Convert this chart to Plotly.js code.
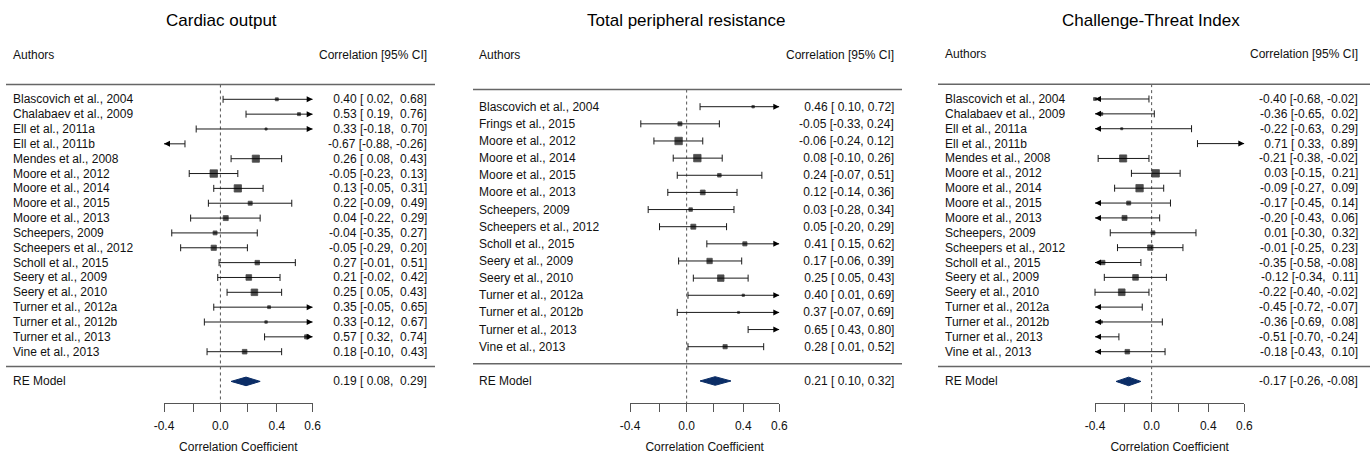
<!DOCTYPE html>
<html><head><meta charset="utf-8">
<script src="https://cdn.plot.ly/plotly-3.0.1.min.js"></script>
<style>html,body{margin:0;padding:0;background:#fff}#chart{width:1370px;height:458px}</style>
</head><body><div id="chart"></div>
<script>
// ---------------- data ----------------
const panelTitles = ["Cardiac output", "Total peripheral resistance", "Challenge-Threat Index"];

const authorsCO = ["Blascovich et al., 2004","Chalabaev et al., 2009","Ell et al., 2011a","Ell et al., 2011b","Mendes et al., 2008","Moore et al., 2012","Moore et al., 2014","Moore et al., 2015","Moore et al., 2013","Scheepers, 2009","Scheepers et al., 2012","Scholl et al., 2015","Seery et al., 2009","Seery et al., 2010","Turner et al., 2012a","Turner et al., 2012b","Turner et al., 2013","Vine et al., 2013"];
const estCO = [0.40, 0.53, 0.33, -0.67, 0.26, -0.05, 0.13, 0.22, 0.04, -0.04, -0.05, 0.27, 0.21, 0.25, 0.35, 0.33, 0.57, 0.18];
const lowCO = [0.02, 0.19, -0.18, -0.88, 0.08, -0.23, -0.05, -0.09, -0.22, -0.35, -0.29, -0.01, -0.02, 0.05, -0.05, -0.12, 0.32, -0.10];
const highCO = [0.68, 0.76, 0.70, -0.26, 0.43, 0.13, 0.31, 0.49, 0.29, 0.27, 0.20, 0.51, 0.42, 0.43, 0.65, 0.67, 0.74, 0.43];
const reCO = [0.19, 0.08, 0.29];

const authorsTPR = ["Blascovich et al., 2004","Frings et al., 2015","Moore et al., 2012","Moore et al., 2014","Moore et al., 2015","Moore et al., 2013","Scheepers, 2009","Scheepers et al., 2012","Scholl et al., 2015","Seery et al., 2009","Seery et al., 2010","Turner et al., 2012a","Turner et al., 2012b","Turner et al., 2013","Vine et al., 2013"];
const estTPR = [0.46, -0.05, -0.06, 0.08, 0.24, 0.12, 0.03, 0.05, 0.41, 0.17, 0.25, 0.40, 0.37, 0.65, 0.28];
const lowTPR = [0.10, -0.33, -0.24, -0.10, -0.07, -0.14, -0.28, -0.20, 0.15, -0.06, 0.05, 0.01, -0.07, 0.43, 0.01];
const highTPR = [0.72, 0.24, 0.12, 0.26, 0.51, 0.36, 0.34, 0.29, 0.62, 0.39, 0.43, 0.69, 0.69, 0.80, 0.52];
const reTPR = [0.21, 0.10, 0.32];

const authorsCTI = ["Blascovich et al., 2004","Chalabaev et al., 2009","Ell et al., 2011a","Ell et al., 2011b","Mendes et al., 2008","Moore et al., 2012","Moore et al., 2014","Moore et al., 2015","Moore et al., 2013","Scheepers, 2009","Scheepers et al., 2012","Scholl et al., 2015","Seery et al., 2009","Seery et al., 2010","Turner et al., 2012a","Turner et al., 2012b","Turner et al., 2013","Vine et al., 2013"];
const estCTI = [-0.40, -0.36, -0.22, 0.71, -0.21, 0.03, -0.09, -0.17, -0.20, 0.01, -0.01, -0.35, -0.12, -0.22, -0.45, -0.36, -0.51, -0.18];
const lowCTI = [-0.68, -0.65, -0.63, 0.33, -0.38, -0.15, -0.27, -0.45, -0.43, -0.30, -0.25, -0.58, -0.34, -0.40, -0.72, -0.69, -0.70, -0.43];
const highCTI = [-0.02, 0.02, 0.29, 0.89, -0.02, 0.21, 0.09, 0.14, 0.06, 0.32, 0.23, -0.08, 0.11, -0.02, -0.07, 0.08, -0.24, 0.10];
const reCTI = [-0.17, -0.26, -0.08];

const tickValues = [-0.4, -0.2, 0.0, 0.2, 0.4, 0.6];
const tickLabels = ["-0.4", "", "0.0", "", "0.4", "0.6"];
const headerLeft = "Authors";
const headerRight = "Correlation [95% CI]";
const summaryLabel = "RE Model";
const xAxisTitle = "Correlation Coefficient";

// ---------------- layout geometry (pixels) ----------------
const W = 1370, H = 458;
const FONT = "Liberation Sans, Arial, sans-serif";
const TXT = "#111";
const axisPx = 403;
const geom = [
  {axL:164, axR:312.7, rowTop:99.3, rowBot:351.7, lineL:6, lineR:435, textL:12.5, textR:427, titleX:221.7},
  {axL:630, axR:779.3, rowTop:106.7, rowBot:346.7, lineL:473, lineR:902, textL:479, textR:893.5, titleX:685.8},
  {axL:1095, axR:1244.3, rowTop:99, rowBot:351.7, lineL:938, lineR:1370, textL:945, textR:1357.5, titleX:1151}
];
const panels = [
  {authors:authorsCO, est:estCO, lo:lowCO, hi:highCO, re:reCO},
  {authors:authorsTPR, est:estTPR, lo:lowTPR, hi:highTPR, re:reTPR},
  {authors:authorsCTI, est:estCTI, lo:lowCTI, hi:highCTI, re:reCTI}
];

const NB = "\u00a0";
function padCol(vals){
  const s = vals.map(v => v.toFixed(2));
  const w = Math.max(...s.map(t => t.length));
  return s.map(t => NB.repeat(w - t.length) + t);
}

const traces = [], shapes = [], annotations = [];
const layout = {
  width: W, height: H, margin:{l:0,r:0,t:0,b:0},
  paper_bgcolor:"#fff", plot_bgcolor:"rgba(0,0,0,0)", showlegend:false,
  font:{family:FONT, size:12, color:TXT}
};

const zMin = Math.atanh(tickValues[0]), zMax = Math.atanh(tickValues[tickValues.length-1]);
const eps = 1e-9;

panels.forEach((p, i) => {
  const g = geom[i];
  const k = p.authors.length;
  const s = (g.rowBot - g.rowTop) / (k - 1);   // px per row
  const p0 = g.rowBot + s;                      // pixel of row 0
  const topRow = k + 3;
  const topPx = p0 - s * topRow;
  const xa = i === 0 ? "x" : "x" + (i+1), ya = i === 0 ? "y" : "y" + (i+1);
  const xk = i === 0 ? "xaxis" : "xaxis" + (i+1), yk = i === 0 ? "yaxis" : "yaxis" + (i+1);

  layout[xk] = {
    domain:[g.axL / W, g.axR / W], range:[zMin, zMax], anchor: ya,
    tickmode:"array", tickvals: tickValues.map(Math.atanh), ticktext: tickLabels,
    ticks:"outside", ticklen:8, tickwidth:1, tickcolor:"#555",
    showline:true, linecolor:"#555", linewidth:1, showgrid:false, zeroline:false,
    tickfont:{family:FONT, size:12, color:TXT}, ticklabelstandoff:4,
    title:{text:xAxisTitle, font:{family:FONT, size:12, color:TXT}, standoff:10},
    fixedrange:true
  };
  layout[yk] = {
    domain:[1 - axisPx / H, 1 - topPx / H], range:[(p0 - axisPx) / s, topRow],
    anchor: xa, visible:false, fixedrange:true
  };

  const rows = p.authors.map((_, j) => k - j);
  const zE = p.est.map(Math.atanh), zL = p.lo.map(Math.atanh), zH = p.hi.map(Math.atanh);

  // CI lines
  const lx = [], ly = [];
  rows.forEach((r, j) => { lx.push(Math.max(zL[j], zMin), Math.min(zH[j], zMax), null); ly.push(r, r, null); });
  traces.push({type:"scatter", mode:"lines", x:lx, y:ly, xaxis:xa, yaxis:ya, line:{color:"#1a1a1a", width:1}, hoverinfo:"skip", cliponaxis:false});

  // end caps
  const cx = [], cy = [];
  rows.forEach((r, j) => {
    if (zL[j] >= zMin - eps) { cx.push(zL[j]); cy.push(r); }
    if (zH[j] <= zMax + eps) { cx.push(zH[j]); cy.push(r); }
  });
  traces.push({type:"scatter", mode:"markers", x:cx, y:cy, xaxis:xa, yaxis:ya, marker:{symbol:"line-ns", size:5, color:"#1a1a1a", line:{width:1, color:"#1a1a1a"}}, hoverinfo:"skip", cliponaxis:false});

  // arrows
  const ax = [], ay = [], as = [];
  rows.forEach((r, j) => {
    if (zL[j] < zMin - eps) { ax.push(zMin); ay.push(r); as.push("arrow-left"); }
    if (zH[j] > zMax + eps) { ax.push(zMax); ay.push(r); as.push("arrow-right"); }
  });
  traces.push({type:"scatter", mode:"markers", x:ax, y:ay, xaxis:xa, yaxis:ya, marker:{symbol:as, size:6, color:"#000", line:{width:0}}, hoverinfo:"skip", cliponaxis:false});

  // squares, sized by precision (1/SE on the Fisher z scale)
  const wi = zL.map((l, j) => 3.92 / (zH[j] - l));
  const wmin = Math.min(...wi), wmax = Math.max(...wi);
  const sx = [], sy = [], ss = [];
  rows.forEach((r, j) => {
    if (zE[j] >= zMin - eps && zE[j] <= zMax + eps) {
      sx.push(zE[j]); sy.push(r); ss.push(5.5 * (0.5 + (wi[j] - wmin) / (wmax - wmin)) - 0.8);
    }
  });
  traces.push({type:"scatter", mode:"markers", x:sx, y:sy, xaxis:xa, yaxis:ya, marker:{symbol:"square", size:ss, color:"#000", line:{width:0.8, color:"#000"}}, hoverinfo:"skip", cliponaxis:false});

  // summary diamond
  const h = 4.3 / s;
  const re = p.re.map(Math.atanh);
  traces.push({type:"scatter", mode:"lines", fill:"toself", x:[re[1], re[0], re[2], re[0], re[1]], y:[-1, -1 + h, -1, -1 - h, -1], xaxis:xa, yaxis:ya, line:{color:"#0b2d66", width:1}, fillcolor:"#0b2d66", hoverinfo:"skip", cliponaxis:false});

  // dotted reference line
  shapes.push({type:"line", xref:xa, yref:ya, x0:0, x1:0, y0:k + 1, y1:(p0 - axisPx) / s, line:{color:"#555", width:1, dash:"dot"}, layer:"below"});
  // separator lines
  [k + 1, 0].forEach(r => shapes.push({type:"line", xref:"paper", yref:ya, x0:g.lineL / W, x1:g.lineR / W, y0:r, y1:r, line:{color:"#666", width:1.5}}));

  // texts
  const base = {xref:"paper", yref:ya, showarrow:false, font:{family:FONT, size:12, color:TXT}, yanchor:"middle", borderpad:0, borderwidth:0};
  annotations.push({...base, text:panelTitles[i], x:g.titleX / W, yref:"paper", y:1 - 20.5 / H, xanchor:"center", font:{family:FONT, size:17, color:"#000"}});
  annotations.push({...base, text:headerLeft, x:g.textL / W, y:topRow, xanchor:"left"});
  annotations.push({...base, text:headerRight, x:g.textR / W, y:topRow, xanchor:"right"});
  const cE = padCol(p.est.concat([p.re[0]])), cL = padCol(p.lo.concat([p.re[1]])), cH = padCol(p.hi.concat([p.re[2]]));
  const ciText = cE.map((e, j) => e + NB + "[" + cL[j] + "," + NB + cH[j] + "]");
  rows.forEach((r, j) => {
    annotations.push({...base, text:p.authors[j], x:g.textL / W, y:r, xanchor:"left"});
    annotations.push({...base, text:ciText[j], x:g.textR / W, y:r, xanchor:"right"});
  });
  annotations.push({...base, text:summaryLabel, x:g.textL / W, y:-1, xanchor:"left"});
  annotations.push({...base, text:ciText[k], x:g.textR / W, y:-1, xanchor:"right"});
});

layout.shapes = shapes;
layout.annotations = annotations;
Plotly.newPlot("chart", traces, layout, {staticPlot:true, displayModeBar:false});
</script></body></html>
